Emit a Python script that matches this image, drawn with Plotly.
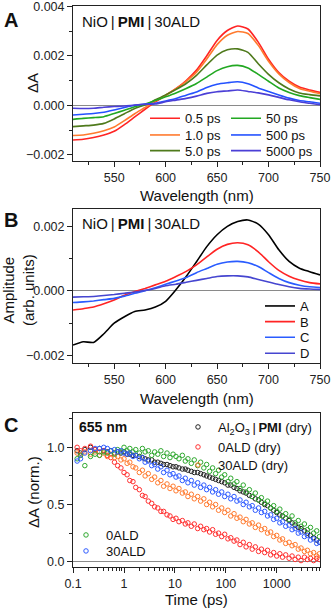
import plotly.graph_objects as go
from plotly.subplots import make_subplots

# ---- panel A: transient spectra ----
wavelength = [510, 520, 530, 540, 550, 560, 570, 580, 590, 600, 610, 620, 630,
              640, 650, 660, 670, 680, 690, 700, 710, 720, 730, 740, 750]
spec_labels = ['0.5 ps', '1.0 ps', '5.0 ps', '50 ps', '500 ps', '5000 ps']
spec_colors = ['#ff2424', '#ff7a2e', '#4f7a1c', '#22a822', '#2452ff', '#4b3fd6']
spec_05 = [-0.00140, -0.00137, -0.00130, -0.00120, -0.00105, -0.00078, -0.00047, -0.00016, 0.00014,
           0.00040, 0.00067, 0.00100, 0.00142, 0.00200, 0.00262, 0.00302, 0.00320, 0.00308,
           0.00255, 0.00186, 0.00132, 0.00097, 0.00074, 0.00062, 0.00052]
spec_1 = [-0.00122, -0.00120, -0.00113, -0.00103, -0.00088, -0.00062, -0.00034, -0.00009, 0.00017,
          0.00041, 0.00067, 0.00097, 0.00134, 0.00187, 0.00245, 0.00283, 0.00298, 0.00290,
          0.00242, 0.00178, 0.00127, 0.00092, 0.00068, 0.00057, 0.00047]
spec_5 = [-0.00086, -0.00083, -0.00080, -0.00073, -0.00055, -0.00034, -0.00013, 0.00002, 0.00022,
          0.00042, 0.00064, 0.00088, 0.00121, 0.00163, 0.00203, 0.00224, 0.00228, 0.00214,
          0.00168, 0.00125, 0.00091, 0.00066, 0.00050, 0.00043, 0.00038]
spec_50 = [-0.00057, -0.00053, -0.00050, -0.00046, -0.00033, -0.00020, -0.00006, 0.00004, 0.00019,
           0.00034, 0.00050, 0.00068, 0.00088, 0.00114, 0.00140, 0.00156, 0.00161, 0.00151,
           0.00125, 0.00097, 0.00070, 0.00052, 0.00039, 0.00031, 0.00024]
spec_500 = [-0.00039, -0.00036, -0.00033, -0.00028, -0.00019, -0.00009, 0.00000, 0.00005, 0.00008,
            0.00017, 0.00027, 0.00041, 0.00054, 0.00072, 0.00085, 0.00091, 0.00095, 0.00087,
            0.00070, 0.00056, 0.00042, 0.00029, 0.00019, 0.00014, 0.00008]
spec_5000 = [-0.00012, -0.00013, -0.00012, -0.00008, -0.00005, -0.00003, 0.00001, 0.00004, 0.00005,
             0.00014, 0.00021, 0.00028, 0.00037, 0.00048, 0.00055, 0.00058, 0.00062, 0.00056,
             0.00050, 0.00042, 0.00032, 0.00022, 0.00014, 0.00008, 0.00002]

# ---- panel B: decay associated spectra ----
das_labels = ['A', 'B', 'C', 'D']
das_colors = ['#000000', '#ff2424', '#2a5cff', '#4646d0']
das_a = [-0.00168, -0.00158, -0.00160, -0.00133, -0.00100, -0.00080, -0.00064, -0.00059, -0.00050,
         -0.00032, 0.00004, 0.00045, 0.00091, 0.00138, 0.00175, 0.00201, 0.00216, 0.00221,
         0.00208, 0.00175, 0.00128, 0.00092, 0.00071, 0.00060, 0.00050]
das_b = [-0.00059, -0.00055, -0.00050, -0.00040, -0.00028, -0.00013, -0.00002, 0.00008, 0.00019,
         0.00030, 0.00045, 0.00061, 0.00081, 0.00106, 0.00130, 0.00145, 0.00150, 0.00144,
         0.00122, 0.00091, 0.00064, 0.00046, 0.00034, 0.00026, 0.00022]
das_c = [-0.00036, -0.00034, -0.00031, -0.00027, -0.00023, -0.00016, -0.00007, 0.00001, 0.00010,
         0.00021, 0.00031, 0.00042, 0.00057, 0.00070, 0.00083, 0.00090, 0.00092, 0.00088,
         0.00076, 0.00057, 0.00039, 0.00026, 0.00018, 0.00013, 0.00011]
das_d = [-0.00019, -0.00018, -0.00017, -0.00014, -0.00011, -0.00007, -0.00003, 0.00002, 0.00008,
         0.00016, 0.00021, 0.00027, 0.00033, 0.00039, 0.00045, 0.00047, 0.00047, 0.00044,
         0.00036, 0.00028, 0.00020, 0.00013, 0.00008, 0.00006, 0.00005]

# ---- panel C: kinetics at 655 nm ----
time_ps = [0.12, 0.14, 0.17, 0.22, 0.27, 0.33, 0.40, 0.47, 0.55, 0.65, 0.75, 0.87, 1.0, 1.15, 1.3,
           1.5, 1.7, 2.0, 2.3, 2.6, 3.0, 3.5, 4.0, 4.6, 5.3, 6.0, 7.0, 8.0, 9.2, 10.5, 12, 14, 16,
           18, 21, 24, 28, 32, 37, 42, 48, 55, 63, 72, 83, 95, 110, 125, 145, 165, 190, 220, 250,
           290, 330, 380, 440, 500, 580, 660, 760, 870, 1000, 1150, 1300, 1500, 1750, 2000, 2300,
           2650, 3000, 3500, 4000, 4600, 5300, 6100, 6900]
kin_al2o3_dry = [0.97, 0.95, 0.98, 1.00, 0.98, 0.99, 0.97, 0.96, 0.97, 0.95, 0.96, 0.95, 0.96, 0.94,
                 0.94, 0.93, 0.93, 0.92, 0.91, 0.90, 0.89, 0.89, 0.87, 0.87, 0.86, 0.85, 0.85, 0.84,
                 0.83, 0.83, 0.82, 0.81, 0.81, 0.80, 0.79, 0.78, 0.78, 0.77, 0.76, 0.75, 0.74, 0.73,
                 0.72, 0.71, 0.70, 0.69, 0.67, 0.67, 0.65, 0.64, 0.62, 0.61, 0.60, 0.58, 0.57, 0.55,
                 0.54, 0.52, 0.50, 0.49, 0.47, 0.45, 0.43, 0.41, 0.40, 0.38, 0.36, 0.34, 0.32, 0.30,
                 0.29, 0.27, 0.25, 0.23, 0.21, 0.19, 0.17]
kin_0ald_dry = [1.00, 0.97, 0.99, 1.01, 0.98, 0.96, 0.97, 0.93, 0.91, 0.87, 0.84, 0.82, 0.78, 0.76,
                0.71, 0.70, 0.65, 0.63, 0.58, 0.57, 0.53, 0.51, 0.48, 0.47, 0.44, 0.44, 0.41, 0.40,
                0.37, 0.38, 0.35, 0.36, 0.33, 0.34, 0.31, 0.33, 0.29, 0.31, 0.28, 0.29, 0.26, 0.28,
                0.24, 0.25, 0.22, 0.24, 0.20, 0.21, 0.18, 0.19, 0.15, 0.17, 0.13, 0.15, 0.11, 0.13,
                0.09, 0.11, 0.08, 0.10, 0.06, 0.08, 0.05, 0.07, 0.04, 0.06, 0.03, 0.05, 0.02, 0.04,
                0.01, 0.04, 0.02, 0.03, 0.01, 0.03, 0.02]
kin_30ald_dry = [0.95, 0.93, 0.96, 0.94, 0.96, 0.93, 0.95, 0.92, 0.94, 0.91, 0.92, 0.89, 0.90, 0.86,
                 0.87, 0.83, 0.82, 0.78, 0.80, 0.75, 0.77, 0.72, 0.74, 0.69, 0.71, 0.66, 0.68, 0.64,
                 0.66, 0.62, 0.64, 0.60, 0.61, 0.57, 0.59, 0.55, 0.57, 0.53, 0.55, 0.50, 0.52, 0.48,
                 0.50, 0.45, 0.47, 0.43, 0.45, 0.40, 0.42, 0.38, 0.39, 0.35, 0.37, 0.33, 0.34, 0.30,
                 0.32, 0.28, 0.29, 0.25, 0.26, 0.22, 0.23, 0.19, 0.20, 0.16, 0.17, 0.14, 0.15, 0.11,
                 0.12, 0.09, 0.10, 0.07, 0.08, 0.05, 0.07]
kin_0ald = [0.90, 0.93, 0.84, 0.92, 0.94, 0.93, 0.96, 0.95, 0.97, 0.94, 0.98, 0.96, 1.00, 0.97, 0.99,
            0.96, 0.98, 0.95, 0.99, 0.96, 0.97, 0.93, 0.96, 0.94, 0.97, 0.92, 0.95, 0.91, 0.94, 0.92,
            0.90, 0.93, 0.88, 0.90, 0.86, 0.89, 0.84, 0.87, 0.82, 0.85, 0.79, 0.82, 0.77, 0.80, 0.74,
            0.76, 0.70, 0.73, 0.68, 0.70, 0.64, 0.67, 0.61, 0.63, 0.57, 0.60, 0.54, 0.56, 0.51, 0.53,
            0.47, 0.49, 0.44, 0.46, 0.40, 0.42, 0.37, 0.40, 0.34, 0.36, 0.31, 0.33, 0.28, 0.30, 0.25,
            0.27, 0.22]
kin_30ald = [0.88, 0.90, 0.95, 0.97, 0.99, 0.99, 1.00, 0.99, 0.97, 0.98, 0.96, 0.97, 0.95, 0.94, 0.95,
             0.92, 0.93, 0.90, 0.91, 0.87, 0.88, 0.84, 0.85, 0.81, 0.83, 0.78, 0.80, 0.76, 0.77, 0.74,
             0.75, 0.71, 0.73, 0.69, 0.71, 0.67, 0.69, 0.65, 0.67, 0.63, 0.65, 0.61, 0.63, 0.59, 0.61,
             0.57, 0.59, 0.55, 0.57, 0.53, 0.54, 0.50, 0.52, 0.48, 0.49, 0.45, 0.47, 0.43, 0.44, 0.40,
             0.41, 0.37, 0.38, 0.34, 0.35, 0.31, 0.32, 0.28, 0.29, 0.25, 0.26, 0.22, 0.23, 0.19, 0.20,
             0.16, 0.17]

FONT = 'Arial, Liberation Sans, sans-serif'
AX = '#222222'

fig = make_subplots(rows=3, cols=1)

# every legend entry gets its own small legend so rows/columns can sit where the reference has them
spec_series = [spec_05, spec_1, spec_5, spec_50, spec_500, spec_5000]
for i, (lab, col, ys) in enumerate(zip(spec_labels, spec_colors, spec_series)):
    fig.add_trace(go.Scatter(x=wavelength, y=ys, name=lab, mode='lines',
                             legend='legend' if i == 0 else f'legend{i + 1}',
                             line=dict(color=col, width=1.6, shape='spline', smoothing=0.6)),
                  row=1, col=1)

das_series = [das_a, das_b, das_c, das_d]
for i, (lab, col, ys) in enumerate(zip(das_labels, das_colors, das_series)):
    fig.add_trace(go.Scatter(x=wavelength, y=ys, name=lab, mode='lines', legend=f'legend{7 + i}',
                             line=dict(color=col, width=1.6, shape='spline', smoothing=0.6)),
                  row=2, col=1)

kin_names = ['Al<sub>2</sub>O<sub>3</sub>\u2009|\u2009<b>PMI</b> (dry)', '0ALD (dry)', '30ALD (dry)',
             '0ALD', '30ALD']
kin_colors = ['#222222', '#ff3030', '#ff7a2e', '#2ea82e', '#2f5cff']
kin_series = [kin_al2o3_dry, kin_0ald_dry, kin_30ald_dry, kin_0ald, kin_30ald]
for i, (lab, col, ys) in enumerate(zip(kin_names, kin_colors, kin_series)):
    fig.add_trace(go.Scatter(x=time_ps, y=ys, name=lab, mode='markers', legend=f'legend{11 + i}',
                             marker=dict(symbol='circle-open', size=4.5, color=col,
                                         line=dict(width=1, color=col))),
                  row=3, col=1)

# geometry (pixels -> paper), plot area spans y 6..567
def py(p):
    return (567 - p) / 561

def px(p):
    return (p - 73) / 247

axis_common = dict(showline=True, mirror=True, linecolor=AX, linewidth=1, ticks='outside',
                   ticklen=5, tickcolor=AX, showgrid=False, zeroline=False,
                   ticklabeloverflow='allow',
                   tickfont=dict(size=12.5, color='#222', family=FONT))

fig.update_xaxes(**axis_common)
fig.update_yaxes(**axis_common)

fig.update_xaxes(range=[510, 750], dtick=50, tick0=550,
                 minor=dict(dtick=25, ticks='outside', ticklen=3, tickcolor=AX), row=1, col=1)
fig.update_xaxes(range=[510, 750], dtick=50, tick0=550,
                 minor=dict(dtick=25, ticks='outside', ticklen=3, tickcolor=AX), row=2, col=1)
fig.update_yaxes(range=[-0.00225, 0.00401], dtick=0.002, tickformat='.3f', domain=[py(161), py(6)],
                 zeroline=True, zerolinecolor='#8a8a8a', zerolinewidth=1,
                 minor=dict(dtick=0.001, ticks='outside', ticklen=3, tickcolor=AX), row=1, col=1)
fig.update_yaxes(range=[-0.00224, 0.00255], dtick=0.002, tickformat='.3f', domain=[py(363), py(209)],
                 zeroline=True, zerolinecolor='#8a8a8a', zerolinewidth=1,
                 minor=dict(dtick=0.001, ticks='outside', ticklen=3, tickcolor=AX), row=2, col=1)
fig.update_xaxes(type='log', range=[-1.002, 3.85], dtick=1, exponentformat='none',
                 minor=dict(dtick='D1', ticks='outside', ticklen=3, tickcolor=AX), row=3, col=1)
fig.update_yaxes(range=[-0.046, 1.30], dtick=0.5, tickformat='.1f', domain=[py(567), py(413)],
                 zeroline=True, zerolinecolor='#8a8a8a', zerolinewidth=1,
                 minor=dict(dtick=0.25, ticks='outside', ticklen=3, tickcolor=AX), row=3, col=1)

lg_base = dict(bgcolor='rgba(0,0,0,0)', borderwidth=0, xanchor='left', yanchor='middle',
               font=dict(size=13, family=FONT, color='#111'), itemwidth=30, tracegroupgap=0)
legend_pos = [(145, 118.3), (145, 135), (145, 150.7),      # A, first column
              (226, 118.3), (226, 135), (226, 150.7),      # A, second column
              (260, 306), (260, 321.7), (260, 337.3), (260, 353.3),   # B
              (178, 427), (178, 447), (178, 465),          # C, top right
              (66, 535), (66, 551)]                        # C, bottom left
legends = {}
for i, (lx, ly) in enumerate(legend_pos):
    key = 'legend' if i == 0 else f'legend{i + 1}'
    legends[key] = dict(lg_base, x=px(lx), y=py(ly))

ann = []
for letter, yy in zip(['A', 'B', 'C'], [20, 220, 425]):
    ann.append(dict(text=f'<b>{letter}</b>', x=px(11), y=py(yy), font=dict(size=20)))
for yy in [21, 224]:
    ann.append(dict(text='NiO\u2009|\u2009<b>PMI</b>\u2009|\u200930ALD', x=px(80), y=py(yy),
                    xanchor='left', font=dict(size=15)))
ann.append(dict(text='<b>655 nm</b>', x=px(77), y=py(427), xanchor='left', font=dict(size=14)))
ann.append(dict(text='\u0394A', x=px(33), y=py(83), textangle=-90, font=dict(size=15)))
ann.append(dict(text='Amplitude<br>(arb. units)', x=px(18), y=py(290), textangle=-90,
                font=dict(size=15)))
ann.append(dict(text='\u0394A (norm.)', x=px(33), y=py(492), textangle=-90, font=dict(size=15)))
for t, yy in [('Wavelength (nm)', 195), ('Wavelength (nm)', 398), ('Time (ps)', 599)]:
    ann.append(dict(text=t, x=px(196.5), y=py(yy), font=dict(size=15)))
for a in ann:
    a.setdefault('xanchor', 'center')
    a.update(xref='paper', yref='paper', yanchor='middle', showarrow=False)
    a['font'] = dict(a['font'], family=FONT, color='#111')

fig.update_layout(
    width=331, height=610,
    margin=dict(l=73, r=11, t=6, b=43, autoexpand=False),
    plot_bgcolor='white', paper_bgcolor='white',
    font=dict(family=FONT, size=13, color='#111'),
    showlegend=True,
    annotations=ann,
    **legends,
)
fig.update_xaxes(domain=[0, 1])

# the page body has a default margin; drop it so the figure sits at the window origin
fig.write_html('out.html', config={'displayModeBar': False},
               post_script="document.body.style.margin='0';")
